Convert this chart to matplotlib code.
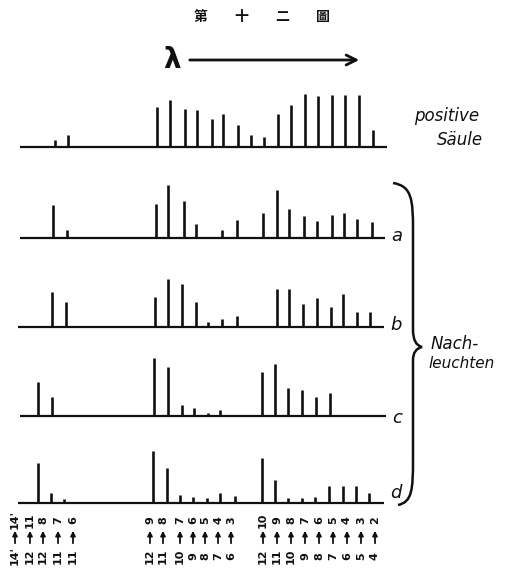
import numpy as np
import matplotlib.pyplot as plt
from matplotlib.path import Path
from matplotlib.patches import PathPatch

# line positions (wavelength axis, arbitrary units) and intensities (drawn height)
pos_x = [55, 68, 157, 170, 185, 197, 212, 223, 238, 251, 264, 278, 291, 305, 318, 332, 345, 359, 373]
pos_h = [7, 12, 40, 47, 38, 37, 28, 33, 22, 12, 10, 33, 42, 53, 51, 52, 52, 52, 17]

a_x = [53, 67, 156, 168, 184, 196, 222, 237, 263, 277, 289, 304, 317, 332, 344, 357, 372]
a_h = [33, 8, 34, 53, 37, 14, 8, 18, 25, 48, 29, 22, 17, 23, 25, 19, 16]

b_x = [52, 66, 155, 168, 182, 196, 208, 222, 237, 277, 289, 303, 317, 331, 343, 357, 370]
b_h = [35, 25, 30, 48, 43, 25, 5, 8, 11, 38, 38, 23, 29, 20, 33, 15, 15]

c_x = [38, 52, 154, 168, 182, 194, 208, 220, 262, 275, 288, 302, 316, 330]
c_h = [34, 19, 58, 49, 11, 8, 3, 6, 44, 52, 28, 26, 19, 23]

d_x = [38, 51, 64, 153, 167, 180, 193, 207, 220, 235, 262, 275, 288, 302, 315, 329, 343, 356, 369]
d_h = [40, 10, 4, 52, 35, 8, 6, 5, 10, 7, 45, 23, 5, 5, 6, 17, 17, 17, 10]

row_names = ["", "a", "b", "c", "d"]
title_chars = ["第", "十", "二", "圖"]

# transition labels under the spectra (upper -> lower)
label_x = [15, 30, 43, 58, 73, 150, 163, 180, 193, 205, 218, 231,
           263, 277, 291, 305, 319, 333, 347, 361, 375]
label_from = ["14'", "12", "12", "11", "11", "12", "11", "10", "9", "8", "7", "6",
              "12", "11", "10", "9", "8", "7", "6", "5", "4"]
label_to = ["14'", "11", "8", "7", "6", "9", "8", "7", "6", "5", "4", "3",
            "10", "9", "8", "7", "6", "5", "4", "3", "2"]

rows = [(pos_x, pos_h), (a_x, a_h), (b_x, b_h), (c_x, c_h), (d_x, d_h)]
base_y = [147, 238, 327, 416, 503]
base_x0 = [20, 20, 18, 20, 18]
base_x1 = [387, 385, 384, 386, 384]
name_dy = [0, -2, -2, 2, -10]

fig = plt.figure(figsize=(5.23, 5.72), dpi=100)
ax = fig.add_axes([0, 0, 1, 1])
ax.set_xlim(0, 523)
ax.set_ylim(572, 0)
ax.axis("off")

ink = "#111111"

for (xs, hs), y0, x0, x1, name, dy in zip(rows, base_y, base_x0, base_x1, row_names, name_dy):
    ax.plot([x0, x1], [y0, y0], color=ink, lw=1.6, solid_capstyle="butt")
    ax.vlines(xs, y0, y0 - np.array(hs), color=ink, lw=1.9)
    if name:
        ax.text(x1 + 6, y0 + dy, name, fontsize=13, style="italic", color=ink,
                ha="left", va="center")

# title and wavelength arrow
for i, ch in enumerate(title_chars):
    ax.text(200 + i * 41, 17, ch, fontsize=10, fontweight="bold", ha="center", va="center",
            family=["Noto Sans CJK TC", "DejaVu Sans"], color=ink)
ax.text(172, 60, "λ", fontsize=20, fontweight="bold", ha="center", va="center", color=ink)
ax.annotate("", xy=(362, 60), xytext=(187, 60),
            arrowprops=dict(arrowstyle="->", color=ink, lw=2, mutation_scale=18))

ax.text(447, 116, "positive", fontsize=12, style="italic", ha="center", va="center", color=ink)
ax.text(460, 140, "Säule", fontsize=12, style="italic", ha="center", va="center", color=ink)

# curly brace for the afterglow spectra
verts = [(393, 183), (412, 186), (413, 200), (413, 230),
         (413, 330), (413, 345), (422, 347),
         (413, 349), (413, 360), (413, 460),
         (413, 490), (412, 502), (398, 505)]
codes = [Path.MOVETO, Path.CURVE4, Path.CURVE4, Path.CURVE4,
         Path.LINETO, Path.CURVE3, Path.CURVE3,
         Path.CURVE3, Path.CURVE3, Path.LINETO,
         Path.CURVE4, Path.CURVE4, Path.CURVE4]
ax.add_patch(PathPatch(Path(verts, codes), fill=False, lw=1.8, edgecolor=ink))
ax.text(455, 344, "Nach-", fontsize=12, style="italic", ha="center", va="center", color=ink)
ax.text(462, 364, "leuchten", fontsize=11, style="italic", ha="center", va="center", color=ink)

# rotated transition labels
for x, lo, hi in zip(label_x, label_from, label_to):
    ax.text(x, 520, hi, rotation=90, fontsize=8, fontweight="bold", ha="center", va="center", color=ink)
    ax.annotate("", xy=(x, 528), xytext=(x, 546),
                arrowprops=dict(arrowstyle="-|>", color=ink, lw=1.3, mutation_scale=7))
    ax.text(x, 556, lo, rotation=90, fontsize=8, fontweight="bold", ha="center", va="center", color=ink)

fig.savefig("out.png", dpi=100)
